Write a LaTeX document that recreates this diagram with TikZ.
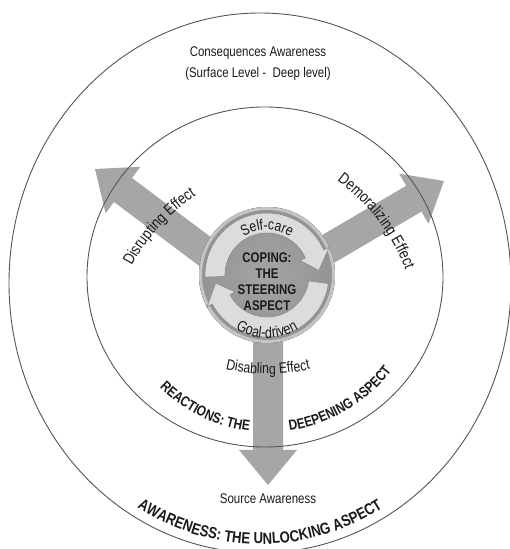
\documentclass[tikz,border=0pt]{standalone}
\usepackage{fontspec}
\newfontfamily\nf{Liberation Sans}[FakeStretch=0.82]
\usetikzlibrary{calc,decorations.text}
\definecolor{arrowgray}{HTML}{A6A6A6}
\definecolor{linegray}{HTML}{555555}
\definecolor{ringcol}{HTML}{DCDCDC}
\definecolor{ringedge}{HTML}{8A8A8A}
\definecolor{discin}{HTML}{A4A4A4}
\definecolor{discout}{HTML}{939393}
\definecolor{discrim}{HTML}{C4C4C4}
\definecolor{txt}{HTML}{1A1A1A}
\tikzset{
  circline/.style={draw=linegray, line width=0.9pt},
  lbl/.style={font=\nf\fontsize{14}{20}\selectfont, text=txt, inner sep=0pt, align=center},
  arctext/.style={decorate, decoration={text along path, text align=center, text color=txt, text={#1}}},
  arctextl/.style={decorate, decoration={text along path, text align=left, text color=txt, text={#1}}},
  arctextr/.style={decorate, decoration={text along path, text align=right, text color=txt, text={#1}}}
}
\newcommand{\bigarrow}[3]{% name, start, tip
  \coordinate (#1b) at ($(#3)!35pt!(#2)$);
  \fill[arrowgray] ($(#2)!15pt!90:(#3)$) -- ($(#1b)!15pt!90:(#3)$) -- ($(#1b)!29pt!90:(#3)$)
    -- (#3) -- ($(#1b)!29pt!-90:(#3)$) -- ($(#1b)!15pt!-90:(#3)$) -- ($(#2)!15pt!-90:(#3)$) -- cycle;
}
\newcommand{\ringarrow}[2]{% clockwise from #1 to #2
  \filldraw[fill=ringcol, draw=ringedge, line width=0.6pt]
    ($(ctr)+(#1:62pt)$) arc[start angle=#1, end angle=#2, radius=62pt]
    -- ($(ctr)+(#2:68pt)$) -- ($(ctr)+({#2-19}:52pt)$) -- ($(ctr)+(#2:36pt)$)
    -- ($(ctr)+(#2:42pt)$) arc[start angle=#2, end angle=#1, radius=42pt] -- cycle;
}
\begin{document}
\begin{tikzpicture}[x=1pt,y=1pt]
\useasboundingbox (0,0) rectangle (509,549);
\fill[white] (0,0) rectangle (509,549);
\coordinate (ctr) at (267,274);
\coordinate (Ls) at (247,266); \coordinate (Lt) at (95,380);
\coordinate (Rs) at (282,273); \coordinate (Rt) at (444,368);
\coordinate (Ds) at (268,274); \coordinate (Dt) at (268,64);
\coordinate (outerc) at (260,266);
\coordinate (innerc) at (265,272);

% big arrows
\bigarrow{L}{Ls}{Lt}
\bigarrow{R}{Rs}{Rt}
\bigarrow{D}{Ds}{Dt}

% circles
\draw[circline] (outerc) ellipse [x radius=251pt, y radius=270pt];
\draw[circline] (innerc) ellipse [x radius=178pt, y radius=170pt];

% central disc
\fill[inner color=discin, outer color=discout] (ctr) circle[radius=68pt];
\draw[discrim, line width=3pt] (ctr) circle[radius=66.5pt];
\ringarrow{182}{24}
\ringarrow{-8}{-152}

% center text
\node[lbl, font=\nf\bfseries\fontsize{14}{16}\selectfont] (coping) at (267,267) {COPING:\\THE\\STEERING\\ASPECT};

% ring texts
\path[arctext={|\nf\fontsize{15}{15}\selectfont|Self-care}] ($(ctr)+(150:45pt)$) arc[start angle=150, end angle=30, radius=45pt];
\path[arctext={|\nf\fontsize{15.5}{15}\selectfont|Goal-driven}] ($(ctr)+(210:63pt)$) arc[start angle=210, end angle=330, radius=63pt];

% arrow texts
\coordinate (dsc) at (268,364);
\path[arctext={|\nf\fontsize{15}{15}\selectfont|Disabling Effect}] ($(dsc)+(245:189pt)$) arc[start angle=245, end angle=295, radius=189pt];
\coordinate (drc) at (307,187);
\path[arctext={|\nf\fontsize{16}{16}\selectfont|Disrupting Effect}] ($(drc)+(170:200pt)$) arc[start angle=170, end angle=105, radius=200pt];
\coordinate (dmc) at (219,207);
\path[arctext={|\nf\fontsize{16}{16}\selectfont|Demoralizing Effect}] ($(dmc)+(75:200pt)$) arc[start angle=75, end angle=0, radius=200pt];

% circle labels
\node[lbl] (cons) at (258,496) {Consequences Awareness};
\node[lbl] (surf) at (258,475) {(Surface Level -\ \ Deep level)};
\node[lbl] (src) at (268,50) {Source Awareness};

\coordinate (rc) at (268,272);
\path[arctextr={|\nf\bfseries\fontsize{14.5}{15}\selectfont|REACTIONS: THE}] ($(rc)+(200:155pt)$) arc[start angle=200, end angle=263, radius=155pt];
\path[arctextl={|\nf\bfseries\fontsize{14.5}{15}\selectfont|DEEPENING ASPECT}] ($(rc)+(278:155pt)$) arc[start angle=278, end angle=345, radius=155pt];
\path[arctext={|\nf\bfseries\fontsize{16}{16}\selectfont|AWARENESS: THE UNLOCKING ASPECT}] ($(outerc)+(210:242pt and 261pt)$) arc[start angle=210, end angle=330, x radius=242pt, y radius=261pt];
\end{tikzpicture}
\end{document}
